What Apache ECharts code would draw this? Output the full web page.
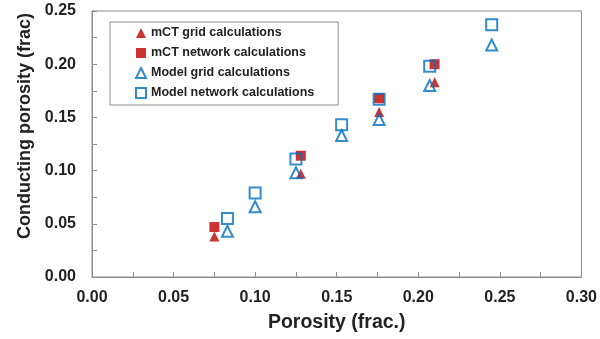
<!DOCTYPE html>
<html><head><meta charset="utf-8">
<script src="https://cdn.jsdelivr.net/npm/echarts@6/dist/echarts.min.js"></script>
<style>html,body{margin:0;padding:0;background:#fff}#c{width:600px;height:339px}</style>
</head><body><div id="c"></div>
<script>
const seriesNames = ['mCT grid calculations','mCT network calculations','Model grid calculations','Model network calculations'];
const mctGrid = [[0.075,0.038],[0.128,0.097],[0.176,0.155],[0.210,0.183]];
const mctNetwork = [[0.075,0.047],[0.128,0.114],[0.176,0.168],[0.210,0.200]];
const modelGrid = [[0.083,0.043],[0.100,0.066],[0.125,0.098],[0.153,0.133],[0.176,0.148],[0.207,0.180],[0.245,0.218]];
const modelNetwork = [[0.083,0.055],[0.100,0.079],[0.125,0.111],[0.153,0.143],[0.176,0.167],[0.207,0.198],[0.245,0.237]];
const xTitle = 'Porosity (frac.)';
const yTitle = 'Conducting porosity (frac)';
const RED = '#C00000', BLUE = '#0070C0';
const FONT = 'Liberation Sans, Arial, sans-serif';
const chart = echarts.init(document.getElementById('c'));
const fmt = v => (Math.abs(Math.round(v*1000) % 50) < 1) ? v.toFixed(2) : '';
chart.setOption({
  animation:false,
  grid:{left:92,right:17,top:11,bottom:62,show:true,borderColor:'#8c8c8c',borderWidth:1},
  legend:{
    orient:'vertical',left:110,top:22,itemWidth:10,itemHeight:10,itemGap:0,
    padding:[1,24,2,25],borderColor:'#8c8c8c',borderWidth:1,
    textStyle:{fontFamily:FONT,fontWeight:'bold',fontSize:12.5,color:'#222',lineHeight:20},
    data:seriesNames
  },
  xAxis:{type:'value',min:0,max:0.30,interval:0.025,
    name:xTitle,nameLocation:'middle',nameGap:36,
    nameTextStyle:{fontFamily:FONT,fontWeight:'bold',fontSize:19.5,color:'#222'},
    axisLine:{lineStyle:{color:'#8c8c8c'}},
    axisTick:{inside:true,length:5,lineStyle:{color:'#8c8c8c'}},
    axisLabel:{formatter:fmt,fontFamily:FONT,fontWeight:'bold',fontSize:16,color:'#222',margin:13},
    splitLine:{show:false}},
  yAxis:{type:'value',min:0,max:0.25,interval:0.025,
    name:yTitle,nameLocation:'middle',nameGap:58,
    nameTextStyle:{fontFamily:FONT,fontWeight:'bold',fontSize:18,color:'#222',padding:[0,0,0,36]},
    axisLine:{show:true,lineStyle:{color:'#8c8c8c'}},
    axisTick:{show:true,inside:true,length:5,lineStyle:{color:'#8c8c8c'}},
    axisLabel:{formatter:fmt,fontFamily:FONT,fontWeight:'bold',fontSize:16,color:'#222',margin:16},
    splitLine:{show:false}},
  series:[
    {name:seriesNames[0],type:'scatter',data:mctGrid,symbol:'triangle',symbolSize:10,itemStyle:{color:RED},z:2},
    {name:seriesNames[1],type:'scatter',data:mctNetwork,symbol:'rect',symbolSize:10,itemStyle:{color:RED},z:2},
    {name:seriesNames[2],type:'scatter',data:modelGrid,symbol:'triangle',symbolSize:11,itemStyle:{color:'rgba(255,255,255,0)',borderColor:BLUE,borderWidth:2},z:3},
    {name:seriesNames[3],type:'scatter',data:modelNetwork,symbol:'rect',symbolSize:11,itemStyle:{color:'rgba(255,255,255,0)',borderColor:BLUE,borderWidth:2},z:3}
  ]
});
</script></body></html>
